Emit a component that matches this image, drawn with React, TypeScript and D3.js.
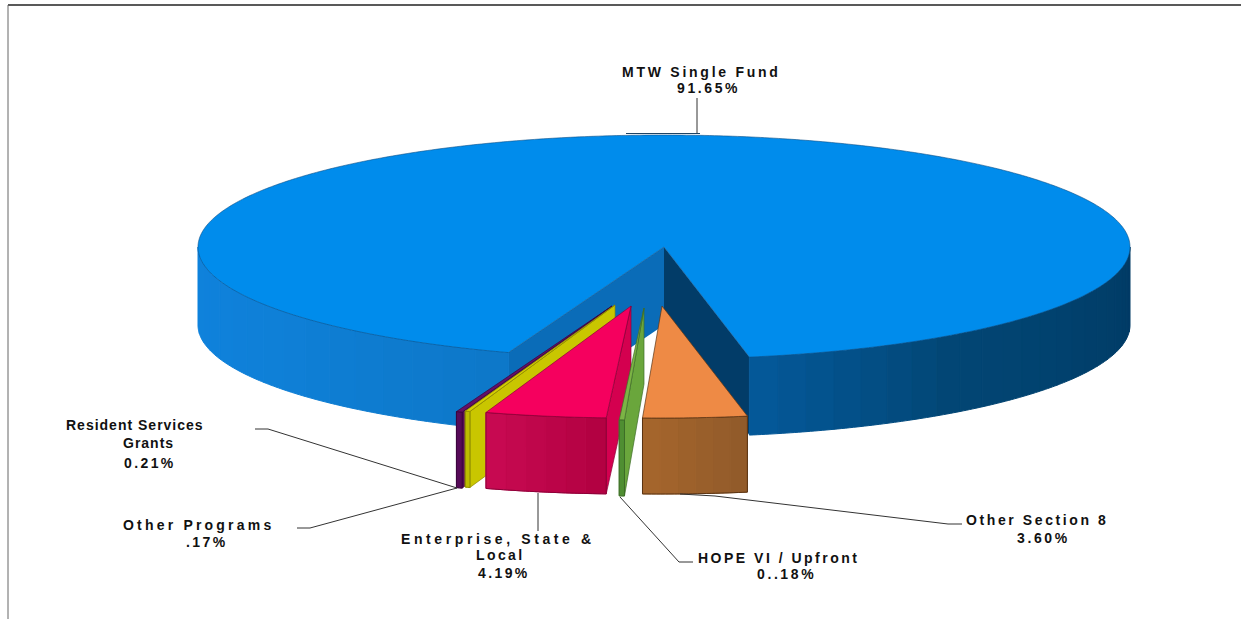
import React from "react";
import * as d3 from "d3";

// Funding sources, in clockwise order from the large slice
const sources = ["MTW Single Fund", "Other Section 8", "HOPE VI / Upfront", "Enterprise, State & Local", "Other Programs", "Resident Services Grants"];
const shares = [91.65, 3.6, 0.18, 4.19, 0.17, 0.21];

// Slice apex after exploding it from the pie
const apexX = [664, 662, 644, 631, 615, 612];
const apexY = [247, 306, 308, 306, 305, 306];

// Surface colours per slice
const topColors = ["#008cec", "#ee8a45", "#7cb445", "#f5005e", "#d4d000", "#640f66"];
const wallColors = ["#0a6cb8", "#8f5a2a", "#6aa63c", "#d4004f", "#c9c600", "#560a58"];
const frontFrom = ["#0f82dc", "#a6662c", "#4f8e32", "#c90a52", "#bcbc00", "#560a58"];
const frontTo = ["#003a64", "#905a2a", "#4f8e32", "#b10040", "#bcbc00", "#560a58"];
const edgeColors = ["#0b4f86", "#5a3414", "#3d6d28", "#8c0038", "#8d8a00", "#3a053c"];

type LabelLine = { text: string; x: number; y: number; spacing: number };
const labelLines: LabelLine[] = [
  { text: "MTW Single Fund", x: 622, y: 77, spacing: 2.75 },
  { text: "91.65%", x: 677, y: 93, spacing: 2.6 },
  { text: "Resident Services", x: 66, y: 430, spacing: 1 },
  { text: "Grants", x: 123, y: 448, spacing: 1 },
  { text: "0.21%", x: 124, y: 468, spacing: 2.4 },
  { text: "Other Programs", x: 123, y: 530, spacing: 3.2 },
  { text: ".17%", x: 186, y: 547, spacing: 2.4 },
  { text: "Enterprise, State &", x: 401, y: 544, spacing: 3.6 },
  { text: "Local", x: 476, y: 560, spacing: 2.4 },
  { text: "4.19%", x: 478, y: 578, spacing: 2.4 },
  { text: "HOPE VI / Upfront", x: 698, y: 563, spacing: 2.5 },
  { text: "0..18%", x: 757, y: 579, spacing: 2.6 },
  { text: "Other Section 8", x: 966, y: 525, spacing: 2.6 },
  { text: "3.60%", x: 1017, y: 543, spacing: 2.6 },
];

// Leader polylines from label to slice
const leaders: [number, number][][] = [
  [[697, 98], [697, 133]],
  [[255, 429], [268, 429], [457, 488]],
  [[297, 528], [310, 528], [457, 488]],
  [[538, 493], [538, 531]],
  [[620, 497], [679, 562], [693, 562]],
  [[680, 494], [715, 496], [948, 524], [962, 524]],
];

const WIDTH = 1241;
const HEIGHT = 619;
const RX = 466;
const RY = 112;
const DEPTH = 76;
const MAIN_DEPTH = 78;
const START_DEG = 199.5;

const toRad = d3.scaleLinear().domain([0, 180]).range([0, Math.PI]);

const pieLayout = d3
  .pie<number>()
  .sort(null)
  .startAngle(toRad(START_DEG))
  .endAngle(toRad(START_DEG + 360));

const line = d3.line<[number, number]>();

function rimPoint(cx: number, cy: number, a: number, drop = 0): [number, number] {
  return [cx + RX * Math.sin(a), cy - RY * Math.cos(a) + drop];
}

function arcPoints(cx: number, cy: number, a0: number, a1: number, drop = 0) {
  const n = Math.max(2, Math.ceil(Math.abs(a1 - a0) / 0.01));
  return d3.range(n + 1).map((i) => rimPoint(cx, cy, a0 + ((a1 - a0) * i) / n, drop));
}

// Bands of the curved side wall, each a flat-coloured quad
function wallBands(cx: number, cy: number, a0: number, a1: number, colour: (t: number) => string, bands: number, depth: number) {
  return d3.range(bands).map((i) => {
    const s = a0 + ((a1 - a0) * i) / bands;
    const e = a0 + ((a1 - a0) * (i + 1)) / bands;
    const top = arcPoints(cx, cy, s, e);
    const bottom = arcPoints(cx, cy, e, s, depth);
    return { d: line([...top, ...bottom])! + "Z", fill: colour((i + 0.5) / bands) };
  });
}

export default function App() {
  const arcs = pieLayout(shares);
  const main = arcs[0];
  const cx = apexX[0];
  const cy = apexY[0];
  const mainEnd = main.endAngle - 2 * Math.PI;
  const mainStart = main.startAngle;

  const leftInner = [[cx, cy], rimPoint(cx, cy, mainStart), rimPoint(cx, cy, mainStart, MAIN_DEPTH), [cx, cy + MAIN_DEPTH]] as [number, number][];
  const rightInner = [[cx, cy], rimPoint(cx, cy, mainEnd), rimPoint(cx, cy, mainEnd, MAIN_DEPTH), [cx, cy + MAIN_DEPTH]] as [number, number][];

  const mainColor = d3.scaleLinear<string>().domain([0, 0.55, 1]).range(["#0d78c8", "#0f80d8", "#0f82dc"]);
  const mainDark = d3.scaleLinear<string>().domain([0, 0.35, 1]).range(["#04599a", "#024674", "#003a64"]);
  const leftBands = wallBands(cx, cy, mainStart, toRad(270), mainColor, 16, MAIN_DEPTH);
  const rightBands = wallBands(cx, cy, mainEnd, toRad(90), mainDark, 22, MAIN_DEPTH);

  const mainTop = [[cx, cy], ...arcPoints(cx, cy, mainStart, main.endAngle)] as [number, number][];

  // Back-to-front: purple, yellow, pink, green, orange
  const explodedOrder = [5, 4, 3, 2, 1];

  return (
    <svg
      width={WIDTH}
      height={HEIGHT}
      viewBox={`0 0 ${WIDTH} ${HEIGHT}`}
      style={{ position: "absolute", left: 0, top: 0, display: "block", background: "#fff" }}
    >
      <line x1={8} y1={5} x2={WIDTH} y2={5} stroke="#222" strokeWidth={1.6} />
      <line x1={8} y1={5} x2={8} y2={HEIGHT} stroke="#666" strokeWidth={1} />

      <path d={line(leftInner)! + "Z"} fill="#0a6cb8" />
      <path d={line(rightInner)! + "Z"} fill="#023c68" />
      {leftBands.map((b, i) => (
        <path key={`l${i}`} d={b.d} fill={b.fill} stroke={b.fill} strokeWidth={1} />
      ))}
      {rightBands.map((b, i) => (
        <path key={`r${i}`} d={b.d} fill={b.fill} stroke={b.fill} strokeWidth={1} />
      ))}
      <path d={line(mainTop)! + "Z"} fill={topColors[0]} stroke={edgeColors[0]} strokeWidth={0.6} />

      {explodedOrder.map((k) => {
        const a = arcs[k];
        const x = apexX[k];
        const y = apexY[k];
        const corner = rimPoint(x, y, a.startAngle);
        const wall = [[x, y], corner, [corner[0], corner[1] + DEPTH], [x, y + DEPTH]] as [number, number][];
        const tint = d3.scaleLinear<string>().domain([0, 1]).range([frontTo[k], frontFrom[k]]);
        const bands = wallBands(x, y, a.startAngle, a.endAngle, (t) => tint(t), a.endAngle - a.startAngle > 0.1 ? 6 : 1, DEPTH);
        const top = [[x, y], ...arcPoints(x, y, a.startAngle, a.endAngle)] as [number, number][];
        // The radial wall faces the viewer only for slices left of the pie's centre line
        const showWall = Math.sin(a.startAngle) < 0;
        return (
          <g key={sources[k]}>
            {showWall && <path d={line(wall)! + "Z"} fill={wallColors[k]} stroke={edgeColors[k]} strokeWidth={0.7} />}
            {bands.map((b, i) => (
              <path key={i} d={b.d} fill={b.fill} stroke={b.fill} strokeWidth={1} />
            ))}
            <path d={line([...arcPoints(x, y, a.startAngle, a.endAngle), ...arcPoints(x, y, a.endAngle, a.startAngle, DEPTH)])! + "Z"} fill="none" stroke={edgeColors[k]} strokeWidth={1} />
            <path d={line(top)! + "Z"} fill={topColors[k]} stroke={edgeColors[k]} strokeWidth={0.7} />
          </g>
        );
      })}

      <line x1={626} y1={133.5} x2={700} y2={133.5} stroke="#1f4464" strokeWidth={1.2} />
      {leaders.map((pts, i) => (
        <path key={`lead${i}`} d={line(pts)!} fill="none" stroke="#333" strokeWidth={1} />
      ))}

      {labelLines.map((l) => (
        <text
          key={l.text}
          x={l.x}
          y={l.y}
          fontFamily="'Liberation Sans', Arial, sans-serif"
          fontWeight="bold"
          fontSize={14}
          letterSpacing={l.spacing}
          fill="#111"
        >
          {l.text}
        </text>
      ))}
    </svg>
  );
}
